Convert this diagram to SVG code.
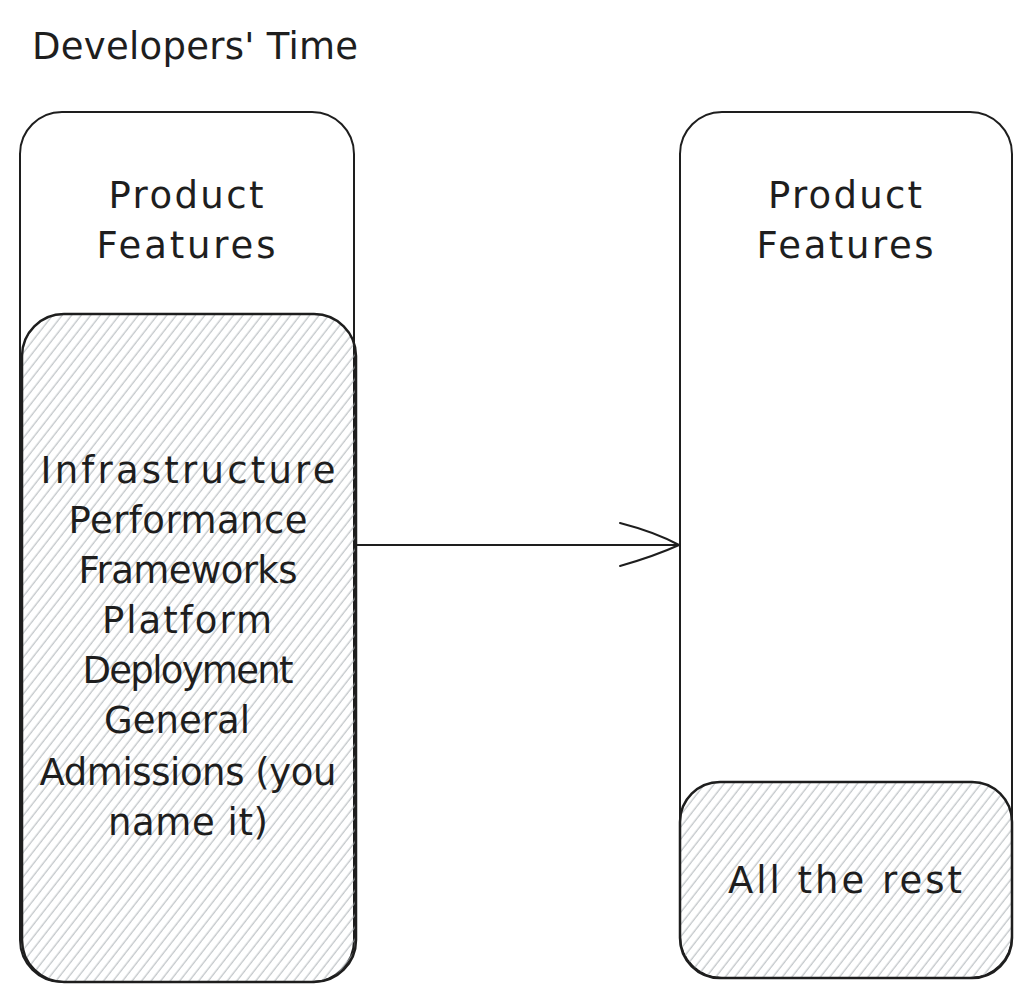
<svg xmlns="http://www.w3.org/2000/svg" width="1033" height="1000" viewBox="0 0 1033 1000">
<defs>
<pattern id="hatch" patternUnits="userSpaceOnUse" width="7.5" height="20" patternTransform="rotate(38)">
<line x1="3" y1="0" x2="3" y2="20" stroke="#aeb3b8" stroke-width="1"/>
</pattern>
<style>
.box{fill:#ffffff;stroke:#1e1e1e;stroke-width:2}
.hbox{fill:url(#hatch);stroke:#1e1e1e;stroke-width:2.5}
.t{font-family:"DejaVu Sans",sans-serif;font-size:37px;fill:#1e1e1e;text-anchor:middle;dominant-baseline:central}
.conn{fill:none;stroke:#1e1e1e;stroke-width:2;stroke-linecap:round}
</style>
</defs>
<rect width="1033" height="1000" fill="#ffffff"/>
<g id="title">
<text x="32" y="46" class="t" style="text-anchor:start" textLength="326" lengthAdjust="spacing">Developers' Time</text>
</g>
<g id="left-outer">
<rect x="20" y="112" width="334" height="870" rx="42" class="box"/>
<text x="186" y="195" class="t" textLength="155" lengthAdjust="spacing">Product</text>
<text x="186" y="245" class="t" textLength="179" lengthAdjust="spacing">Features</text>
</g>
<g id="left-inner">
<rect x="22" y="314" width="334" height="668" rx="42" class="hbox"/>
<text x="188" y="470" class="t" textLength="295" lengthAdjust="spacing">Infrastructure</text>
<text x="188" y="520" class="t" textLength="239" lengthAdjust="spacing">Performance</text>
<text x="188" y="570" class="t" textLength="219" lengthAdjust="spacing">Frameworks</text>
<text x="187" y="620" class="t" textLength="170" lengthAdjust="spacing">Platform</text>
<text x="188" y="670" class="t" textLength="211" lengthAdjust="spacing">Deployment</text>
<text x="177" y="720" class="t" textLength="146" lengthAdjust="spacing">General</text>
<text x="188" y="772" class="t" textLength="297" lengthAdjust="spacing">Admissions (you</text>
<text x="188" y="822" class="t" textLength="160" lengthAdjust="spacing">name it)</text>
</g>
<g id="right-outer">
<rect x="680" y="112" width="332" height="866" rx="42" class="box"/>
<text x="845" y="195" class="t" textLength="154" lengthAdjust="spacing">Product</text>
<text x="845" y="245" class="t" textLength="177" lengthAdjust="spacing">Features</text>
</g>
<g id="right-inner">
<rect x="680" y="782" width="332" height="196" rx="40" class="hbox"/>
<text x="845" y="880" class="t" textLength="234" lengthAdjust="spacing">All the rest</text>
</g>
<g id="connectors">
<path d="M357 545 L679 545" class="conn"/>
<path d="M620 523 Q655 532 679 545 M620 566 Q655 556 679 545" class="conn"/>
</g>
</svg>
